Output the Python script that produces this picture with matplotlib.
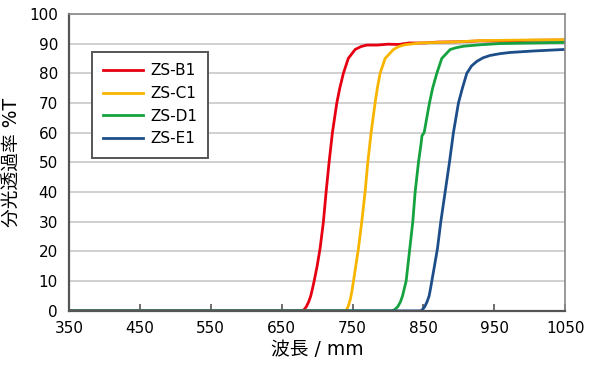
import numpy as np
import matplotlib
matplotlib.use("Agg")
import matplotlib.pyplot as plt

plt.rcParams['font.family'] = ['DejaVu Sans', 'Noto Sans CJK JP']

# wavelength (nm) / transmittance (%T)
b1_x = [350, 679, 682, 685, 688, 691, 693.5, 695.8, 700, 704.2, 708.9, 712.7, 716.9, 721.6, 727.8, 732, 737.1, 744, 753.6, 762, 770, 785, 800, 815, 830, 850, 870, 900, 930, 960, 1000, 1050]
b1_y = [0, 0, 0.5, 1.5, 3, 5, 7.5, 10, 15, 21, 30, 40, 50, 60, 70, 75, 80, 85, 88, 89, 89.5, 89.5, 89.8, 89.7, 90.2, 90.2, 90.5, 90.6, 90.9, 90.8, 91.1, 91.2]

c1_x = [350, 739, 742, 744.5, 747, 749, 751.3, 754.5, 758.3, 763, 767.7, 771.5, 776.2, 781.8, 785, 788.9, 796, 807.7, 815, 824, 845, 870, 900, 930, 960, 1000, 1050]
c1_y = [0, 0, 0.5, 2, 4, 6.5, 10, 15, 21, 30, 40, 50, 60, 70, 75, 80, 85, 88, 89, 89.6, 90.2, 90.4, 90.6, 91, 91.1, 91.2, 91.3]

d1_x = [350, 806, 810, 814, 817.5, 820.5, 823, 825.6, 830.3, 835, 838.3, 843, 846.5, 848, 851, 858.5, 863, 868.9, 875.9, 887.7, 896, 906.5, 930, 958, 1000, 1050]
d1_y = [0, 0, 0.5, 1.5, 3, 5, 7.5, 10, 20, 30, 40, 50, 56, 59, 60, 70, 75, 80, 85, 88, 88.6, 89.1, 89.6, 90, 90.2, 90.4]

e1_x = [350, 846, 849, 852, 855, 858, 860, 861.8, 865.5, 869.8, 874.5, 880.6, 886.7, 892.3, 899.4, 905, 911.2, 918, 925.3, 934, 944, 958, 972, 1005, 1047, 1050]
e1_y = [0, 0, 0.5, 1.5, 3, 5, 7.5, 10, 15, 21, 30, 40, 50, 60, 70, 75, 80, 82.5, 84, 85.2, 86, 86.6, 87, 87.5, 88, 88]

names = ['ZS-B1', 'ZS-C1', 'ZS-D1', 'ZS-E1']
colors = ['#e60012', '#f8b500', '#14a33e', '#1d4e89']

fig = plt.figure(figsize=(6, 3.75), dpi=100)
ax = fig.add_axes([0.115, 0.171, 0.827, 0.792])

for xs, ys, name, c in zip([b1_x, c1_x, d1_x, e1_x], [b1_y, c1_y, d1_y, e1_y], names, colors):
    ax.plot(xs, ys, color=c, lw=2.0, label=name, solid_joinstyle='round')

ax.set_xlim(350, 1050)
ax.set_ylim(0, 100)
ax.set_xticks(np.arange(350, 1051, 100))
ax.set_yticks(np.arange(0, 101, 10))
ax.grid(axis='y', color='#c8c8c8', lw=1.2)
ax.set_axisbelow(True)
ax.tick_params(axis='x', direction='in', length=5, width=1.2, color='#555555', labelsize=11, pad=7)
ax.tick_params(axis='y', length=0, labelsize=11, pad=8)

for s in ['left', 'bottom']:
    ax.spines[s].set_color('#555555')
    ax.spines[s].set_linewidth(1.6)
for s in ['top', 'right']:
    ax.spines[s].set_color('#888888')
    ax.spines[s].set_linewidth(1.2)

ax.set_xlabel('波長 / mm', fontsize=13.5, labelpad=3)
ax.set_ylabel('分光透過率 %T', fontsize=13.5, labelpad=5)

leg = ax.legend(loc='upper left', bbox_to_anchor=(0.046, 0.872), borderaxespad=0,
                fancybox=False, framealpha=1, edgecolor='#555555', fontsize=11,
                handlelength=2.6, handletextpad=0.45, borderpad=0.75, labelspacing=0.5)
leg.get_frame().set_linewidth(1.4)

fig.savefig('out.png', dpi=100)
